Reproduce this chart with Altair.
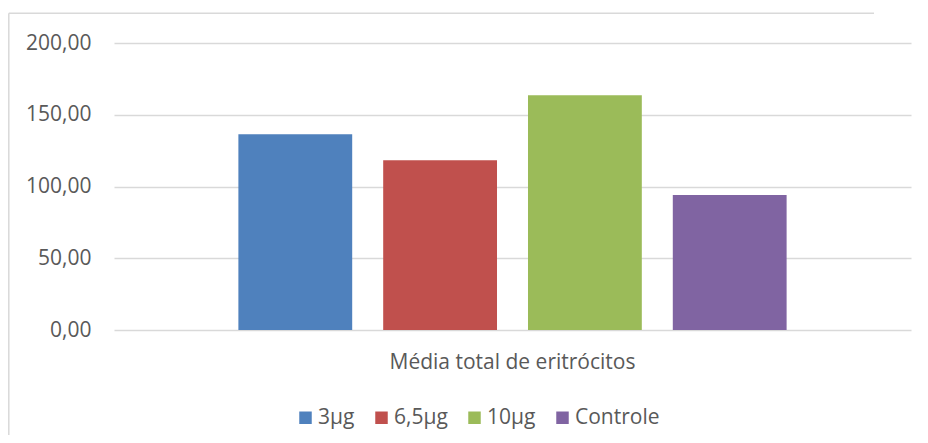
import altair as alt
import pandas as pd

categoria = "Média total de eritrócitos"
series = ["3µg", "6,5µg", "10µg", "Controle"]
valores = [136.4, 118.3, 163.6, 94.0]
cores = ["#4F81BD", "#C0504D", "#9BBB59", "#8064A2"]
ticks_y = [0, 50, 100, 150, 200]

df = pd.DataFrame({
    "categoria": [categoria] * len(series),
    "serie": series,
    "valor": valores,
})

FONT = "Open Sans"
GRAY = "#595959"

bars = alt.Chart(df).mark_bar().encode(
    x=alt.X(
        "categoria:N",
        title=None,
        scale=alt.Scale(paddingInner=0, paddingOuter=0.188),
        axis=alt.Axis(
            labelAngle=0, domain=False, ticks=False, tickSize=0, grid=False,
            labelPadding=21, labelFont=FONT, labelFontSize=21, labelColor=GRAY,
            labelLimit=0,
        ),
    ),
    xOffset=alt.XOffset(
        "serie:N", sort=series,
        scale=alt.Scale(paddingInner=0.214, paddingOuter=0.107),
    ),
    y=alt.Y(
        "valor:Q",
        title=None,
        scale=alt.Scale(domain=[0, 200], nice=False),
        axis=alt.Axis(
            values=ticks_y, domain=False, ticks=False, tickSize=0,
            labelExpr="replace(format(datum.value, '.2f'), '.', ',')",
            labelPadding=23, labelFont=FONT, labelFontSize=21, labelColor=GRAY,
            gridColor="#d9d9d9", gridWidth=1.5,
        ),
    ),
    color=alt.Color(
        "serie:N",
        sort=series,
        scale=alt.Scale(domain=series, range=cores),
        legend=alt.Legend(
            title=None, orient="none", direction="horizontal",
            legendX=181, legendY=364, padding=0,
            symbolType="square", symbolSize=156, symbolStrokeWidth=0,
            labelFont=FONT, labelFontSize=21, labelColor=GRAY,
            labelOffset=2, columnPadding=16,
        ),
    ),
)

frame = pd.DataFrame({"b": [0]})
top_edge = alt.Chart(frame).mark_rule(color="#d9d9d9", strokeWidth=1.5).encode(
    x=alt.value(-105.2), x2=alt.value(760), y=alt.value(-29.7),
)
left_edge = alt.Chart(frame).mark_rule(color="#d9d9d9", strokeWidth=1.5).encode(
    x=alt.value(-105.2), y=alt.value(-29.7), y2=alt.value(420),
)

chart = alt.layer(top_edge, left_edge, bars).properties(
    width=797, height=287,
    autosize=alt.AutoSizeParams(type="none"),
    padding={"left": 106, "top": 35, "right": 9, "bottom": 105},
    background="white",
).configure_view(stroke=None)

chart.save("out.html", embed_options={"renderer": "svg", "actions": False})
